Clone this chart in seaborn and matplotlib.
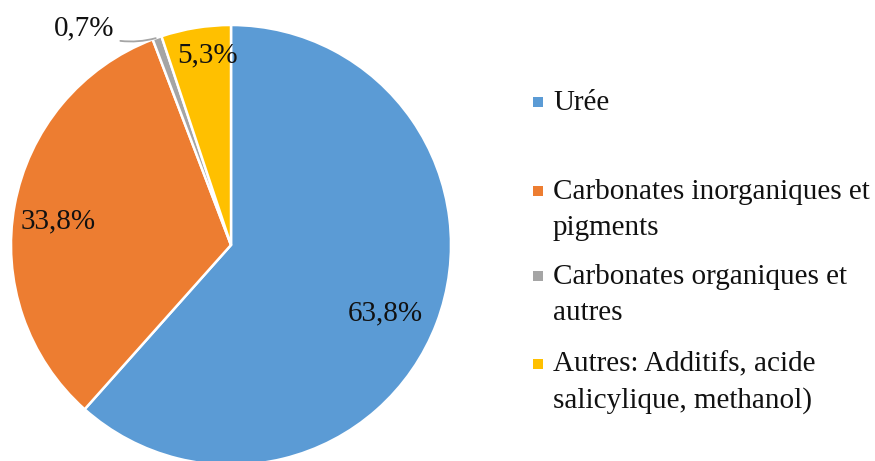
import numpy as np
import matplotlib
matplotlib.use("Agg")
import matplotlib.pyplot as plt
from matplotlib.patches import Rectangle
import seaborn as sns

categories = ["Urée",
              "Carbonates inorganiques et\npigments",
              "Carbonates organiques et\nautres",
              "Autres: Additifs, acide\nsalicylique, methanol)"]
values = [63.8, 33.8, 0.7, 5.3]
value_labels = ["63,8%", "33,8%", "0,7%", "5,3%"]
colors = ["#5B9BD5", "#ED7D31", "#A5A5A5", "#FFC000"]

sns.set_theme(style="white")
plt.rcParams['font.family'] = ['Liberation Serif', 'DejaVu Serif']

fig = plt.figure(figsize=(8.75, 4.61), dpi=100)
W, H = 875, 461
cx, cy, R = 231, 245, 220
ax = fig.add_axes([(cx - R) / W, (H - cy - R) / H, 2 * R / W, 2 * R / H])

wedges, _ = ax.pie(values, colors=colors, startangle=90, counterclock=False,
                   radius=1.0, wedgeprops=dict(edgecolor="white", linewidth=1.8))
ax.set_xlim(-1, 1)
ax.set_ylim(-1, 1)
ax.set_aspect("equal")
ax.axis("off")

fs = 21
# label placement: (radius, angle tweak in degrees) relative to wedge middle, baseline anchored
label_pos = [(0.779, -5.1), (0.790, 5.0), None, (0.839, -1.9)]
for w, lab, p in zip(wedges, value_labels, label_pos):
    mid = (w.theta1 + w.theta2) / 2
    if p is not None:
        r, d = p
        a = np.deg2rad(mid + d)
        ax.text(r * np.cos(a), r * np.sin(a), lab, ha="center", va="baseline",
                fontsize=fs, color="#111111")
    else:
        a = np.deg2rad(mid)
        ax.annotate(lab, xy=(np.cos(a), np.sin(a)), xytext=(-0.668, 0.955),
                    ha="center", va="baseline", fontsize=fs, color="#111111",
                    annotation_clip=False,
                    arrowprops=dict(arrowstyle="-", color="#A5A5A5", lw=1.3,
                                    relpos=(1.1, 0.0), shrinkA=0, shrinkB=1,
                                    connectionstyle="arc3,rad=0.1"))

# legend (manual to match layout)
baselines = [110, 199, 284, 372]
line_step = 36
for lab, col, b in zip(categories, colors, baselines):
    nlines = lab.count("\n") + 1
    last_base = b + line_step * (nlines - 1)
    fig.text(553 / W, 1 - last_base / H, lab, ha="left", va="baseline",
             fontsize=fs, color="#111111", linespacing=1.5)
    fig.patches.append(Rectangle((533 / W, 1 - (b - 3) / H), 10 / W, 10 / H,
                                 transform=fig.transFigure, facecolor=col,
                                 edgecolor="none"))

fig.savefig("out.png", dpi=100)
